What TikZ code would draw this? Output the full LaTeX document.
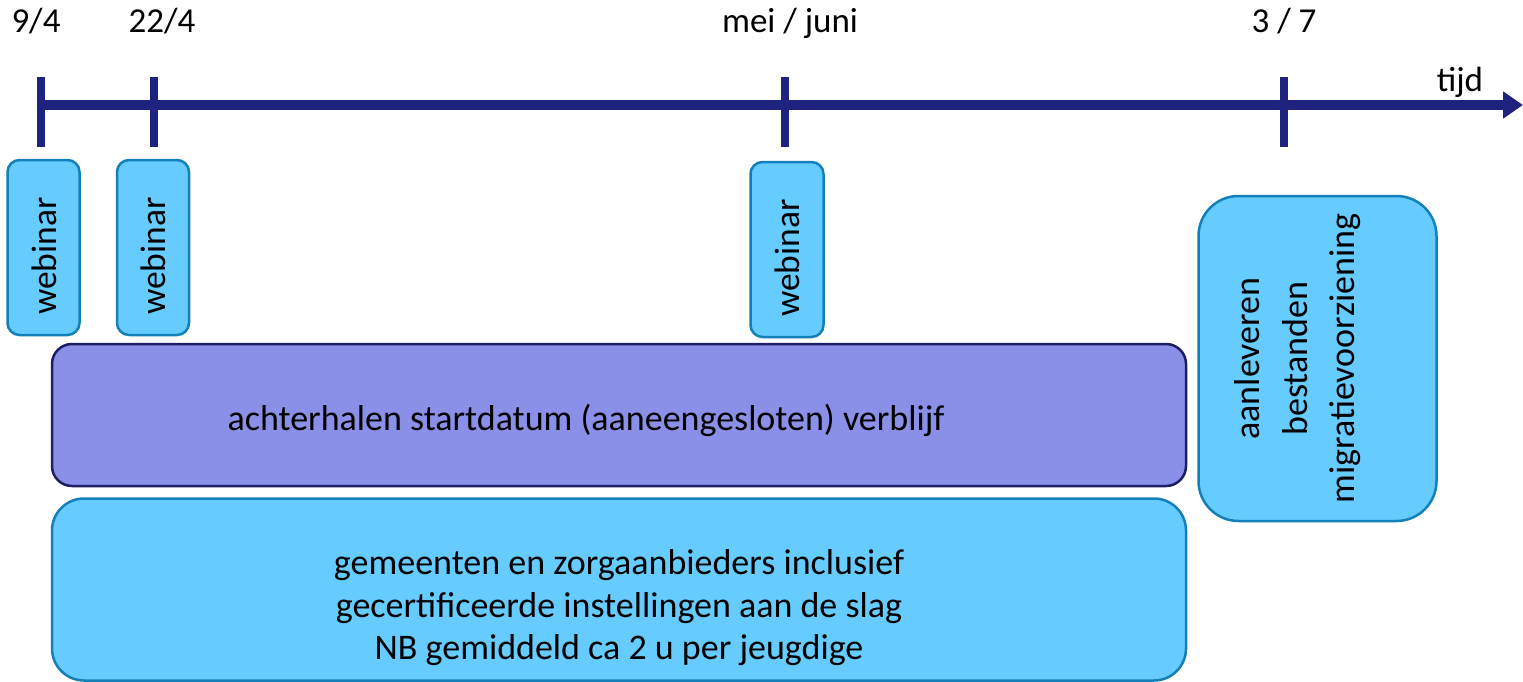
\documentclass[tikz,border=0pt]{standalone}
\usepackage{fontspec}
\setmainfont{Carlito}
\usetikzlibrary{arrows.meta}
\definecolor{navy}{RGB}{31,35,128}
\definecolor{skyfill}{RGB}{102,204,255}
\definecolor{skyline}{RGB}{20,128,185}
\definecolor{purfill}{RGB}{138,143,232}
\definecolor{purline}{RGB}{30,30,100}
\tikzset{
  skybox/.style={draw=skyline, fill=skyfill, line width=2.5pt, inner sep=0pt},
  purbox/.style={draw=purline, fill=purfill, line width=2.5pt, inner sep=0pt},
  boxtext/.style={inner sep=0pt, align=center, font=\fontsize{36}{42.5}\selectfont},
  datelbl/.style={anchor=base, inner sep=0pt, font=\fontsize{35}{42}\selectfont},
  tick/.style={draw=navy, line width=8pt},
}
\begin{document}
\begin{tikzpicture}[x=1pt,y=-1pt]
\useasboundingbox (0,0) rectangle (1523,682);
% timeline
\coordinate (tstart) at (37,105);
\coordinate (tend) at (1523,105);
\draw[draw=navy, line width=10pt, -{Triangle[length=20pt,width=26pt]}] (tstart) -- (tend);
\foreach \n/\x in {a/41, b/154, c/785, d/1284} {
  \coordinate (\n top) at (\x,77);
  \coordinate (\n bot) at (\x,147);
  \draw[tick] (\n top) -- (\n bot);
}
% date labels
\node[datelbl] (l1) at (36,33) {9/4};
\node[datelbl] (l2) at (162,33) {22/4};
\node[datelbl] (l3) at (790,33) {mei / juni};
\node[datelbl] (l4) at (1284,33) {3 / 7};
\node[datelbl] (l5) at (1460,92) {tijd};
% webinar boxes
\node[skybox, rounded corners=12pt, minimum width=72pt, minimum height=175pt] (w1) at (43.5,247.5) {};
\node[boxtext, rotate=90, font=\fontsize{35.5}{42}\selectfont] (w1t) at (44,256) {webinar};
\node[skybox, rounded corners=12pt, minimum width=72pt, minimum height=175pt] (w2) at (153,247.5) {};
\node[boxtext, rotate=90, font=\fontsize{35.5}{42}\selectfont] (w2t) at (153,256) {webinar};
\node[skybox, rounded corners=12pt, minimum width=73pt, minimum height=175pt] (w3) at (787,249.5) {};
\node[boxtext, rotate=90, font=\fontsize{35.5}{42}\selectfont] (w3t) at (787,258) {webinar};
% purple bar
\node[purbox, rounded corners=20pt, minimum width=1134pt, minimum height=142pt] (p) at (619,415) {};
\node[boxtext] (pt) at (586,420) {achterhalen startdatum (aaneengesloten) verblijf};
% bottom bar
\node[skybox, rounded corners=32pt, minimum width=1134pt, minimum height=182pt] (g) at (619,589.5) {};
\node[boxtext] (gt) at (619,608) {gemeenten en zorgaanbieders inclusief\\gecertificeerde instellingen aan de slag\\NB gemiddeld ca 2 u per jeugdige};
% right box
\node[skybox, rounded corners=40pt, minimum width=238pt, minimum height=325pt] (r) at (1317.5,358.5) {};
\node[boxtext, rotate=90, font=\fontsize{36}{47.5}\selectfont] (rt) at (1298,358.5) {aanleveren\\bestanden\\migratievoorziening};
\end{tikzpicture}
\end{document}
